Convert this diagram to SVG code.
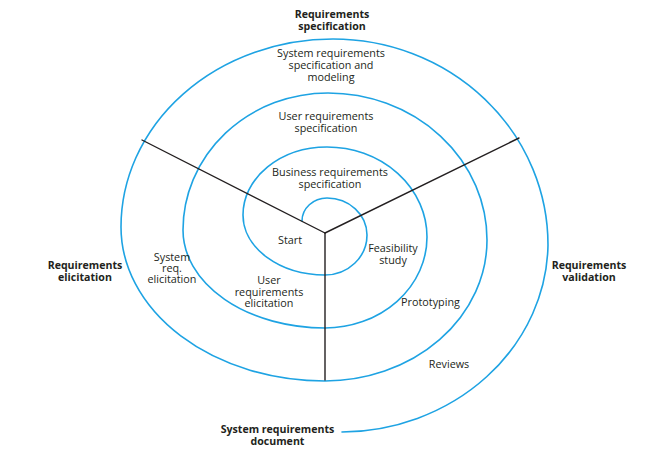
<svg xmlns="http://www.w3.org/2000/svg" width="650" height="458" viewBox="0 0 650 458">
<style>
.spiral{fill:none;stroke:#1ea3e3;stroke-width:1.6;stroke-linecap:round}
.axis{fill:none;stroke:#231f20;stroke-width:1.4;stroke-linecap:round}
text{font-family:"Open Sans","Noto Sans","DejaVu Sans",sans-serif;fill:#231f20;text-anchor:middle}
.r{font-size:10.8px}
.b{font-size:10.6px;font-weight:bold}
</style>
<rect width="650" height="458" fill="#ffffff"/>
<g id="spiral">
<path class="spiral" d="M302,221 A25,23 0 0 1 327,198 A40,37 0 0 1 367,235 A42,40 0 0 1 325,275 A82,60 0 0 1 243,215 A84,68 0 0 1 327,147 A100,90 0 0 1 427,237 A102,91 0 0 1 325,328 A142,98 0 0 1 183,230 A145,137 0 0 1 328,93 A159,147 0 0 1 487,240 A162,141 0 0 1 325,381 A204,154 0 0 1 121,227 A212,188 0 0 1 333,39 A215,206 0 0 1 548,245 A208,190 0 0 1 342,432"/>
</g>
<g id="connectors">
<line class="axis" x1="325" y1="233" x2="142" y2="140"/>
<line class="axis" x1="325" y1="233" x2="519" y2="138"/>
<line class="axis" x1="325" y1="233" x2="325" y2="380"/>
</g>
<g id="req-spec"><text class="b" x="332" y="18">Requirements</text><text class="b" x="332" y="30">specification</text></g>
<g id="sys-req-spec"><text class="r" x="331" y="57">System requirements</text><text class="r" x="331" y="69">specification and</text><text class="r" x="331" y="81">modeling</text></g>
<g id="user-req-spec"><text class="r" x="326" y="120">User requirements</text><text class="r" x="326" y="132">specification</text></g>
<g id="business-req-spec"><text class="r" x="330" y="176">Business requirements</text><text class="r" x="330" y="188">specification</text></g>
<g id="start"><text class="r" x="290" y="244">Start</text></g>
<g id="feasibility"><text class="r" x="393" y="252">Feasibility</text><text class="r" x="393" y="264">study</text></g>
<g id="user-req-elic"><text class="r" x="269" y="284">User</text><text class="r" x="269" y="295.5">requirements</text><text class="r" x="269" y="307">elicitation</text></g>
<g id="sys-req-elic"><text class="r" x="172" y="261">System</text><text class="r" x="172" y="272">req.</text><text class="r" x="172" y="283">elicitation</text></g>
<g id="req-elic"><text class="b" x="85" y="269">Requirements</text><text class="b" x="85" y="281">elicitation</text></g>
<g id="req-valid"><text class="b" x="589" y="269">Requirements</text><text class="b" x="589" y="281">validation</text></g>
<g id="prototyping"><text class="r" x="430.5" y="306">Prototyping</text></g>
<g id="reviews"><text class="r" x="449" y="368">Reviews</text></g>
<g id="sys-req-doc"><text class="b" x="277.5" y="433">System requirements</text><text class="b" x="277.5" y="445">document</text></g>
</svg>
